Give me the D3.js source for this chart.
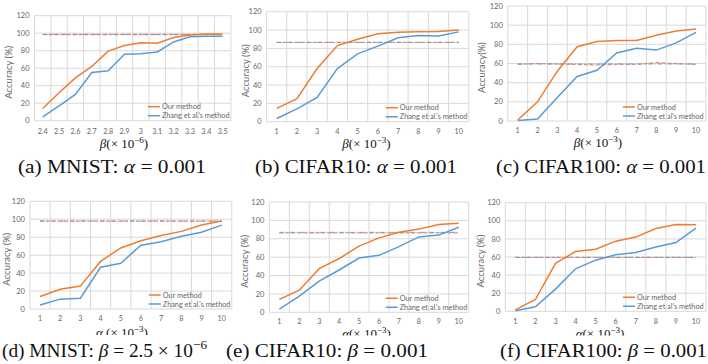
<!DOCTYPE html>
<html><head><meta charset="utf-8">
<script src="https://cdn.jsdelivr.net/npm/d3@7"></script>
<style>html,body{margin:0;padding:0;background:#fff;}svg{display:block;}</style>
</head><body>
<svg id="chart" width="708" height="364"></svg>
<script>
// ---------- data ----------
const catsA = ["2.4","2.5","2.6","2.7","2.8","2.9","3","3.1","3.2","3.3","3.4","3.5"];
const catsN = ["1","2","3","4","5","6","7","8","9","10"];
const yTicks = [0,20,40,60,80,100,120];

const ourA   = [14, 32, 49, 62, 79.5, 86, 89, 88.5, 95, 98, 99, 99];
const zhangA = [4.5, 17, 30, 55, 57, 76, 76.5, 78.5, 90, 96, 96.5, 96.5];
const baseOurA   = [98.5,98.5,98.5,98.5,98.5,98.5,98.5,98.5,98.5,98.5,98.5,98.5];
const baseZhangA = [98.5,98.5,98.5,98.5,98.5,98.5,98.5,98.5,98.5,98.5,98.5,98.5];

const ourB   = [14.5, 25, 58, 83, 90, 96, 97.5, 98, 98.5, 100];
const zhangB = [3.5, 14, 26.5, 58, 74, 82.5, 91.5, 94, 93.5, 98];
const baseOurB   = [86.5,86.5,86.5,86.5,86.5,86.5,86.5,86.5,86.5,86.5];
const baseZhangB = [86.5,86.5,86.5,86.5,86.5,86.5,86.5,86.5,86.5,86.5];

const ourC   = [1, 20, 52, 77.5, 83, 84, 84, 89.5, 94, 96];
const zhangC = [0.5, 2, 24.5, 46.5, 53, 71, 76, 74, 81.5, 92.5];
const baseOurC   = [59, 60, 59.5, 59, 58.5, 59, 59, 61, 60, 59];
const baseZhangC = [59.5,59.5,59.5,59.5,59.5,59.5,59.5,59.5,59.5,59.5];

const ourD   = [14, 22, 25.5, 53, 68, 76, 82, 86.5, 93.5, 98];
const zhangD = [4.5, 11, 12, 46.5, 51, 71, 75, 81, 85.5, 93.5];
const baseOurD   = [98,98,98,98,98,98,98,98,98,98];
const baseZhangD = [98,98,98,98,98,98,98,98,98,98];

const ourE   = [14, 24, 47.5, 58.5, 72, 81, 87, 90.5, 95.5, 97];
const zhangE = [3.5, 17.5, 34, 46, 59, 62, 71.5, 82, 84, 92.5];
const baseOurE   = [86.5,86.5,86.5,86.5,86.5,86.5,86.5,86.5,86.5,86.5];
const baseZhangE = [87,87,87,87,87,87,87,87,87,87];

const ourF   = [1.5, 13, 53, 66, 68.5, 77.5, 82, 91.5, 96, 95.5];
const zhangF = [0.5, 5, 24.5, 47, 56.5, 62.5, 65, 71, 76, 92];
const baseOurF   = [59.5,59.5,59.5,59.5,59.5,59.5,59.5,59.5,59.5,59.5];
const baseZhangF = [59.5,59.5,59.5,59.5,59.5,59.5,59.5,59.5,59.5,59.5];

const seriesNames = ["Our method", "Zhang et al.'s method", "Zhang et al's method"];
const yLabels = ["Accuracy (%)", "Accuracy(%)"];

// ---------- layout ----------
const panels = [
  {cats:catsA, our:ourA, zh:zhangA, bo:baseOurA, bz:baseZhangA, L:34.5, R:230.9, T:15.7, B:120.7, ylx:9,  tickY:131.5, ttlX:124, ttlY:148, sym:"β", exp:"−6", sp:"", ylab:yLabels[0], leg:seriesNames[1], clip:152},
  {cats:catsN, our:ourB, zh:zhangB, bo:baseOurB, bz:baseZhangB, L:266.6, R:468.8, T:11.7, B:121.7, ylx:246, tickY:131.5, ttlX:366.5, ttlY:148, sym:"β", exp:"−3", sp:"", ylab:yLabels[0], leg:seriesNames[1], clip:152},
  {cats:catsN, our:ourC, zh:zhangC, bo:baseOurC, bz:baseZhangC, L:507.8, R:705.9, T:6, B:121, ylx:482, tickY:130.5, ttlX:598, ttlY:147, sym:"β", exp:"−3", sp:"", ylab:yLabels[1], leg:seriesNames[2], clip:152},
  {cats:catsN, our:ourD, zh:zhangD, bo:baseOurD, bz:baseZhangD, L:29.9, R:231.8, T:201.3, B:309, ylx:7, tickY:318.2, ttlX:122, ttlY:336.5, sym:"α", exp:"−3", sp:" ", ylab:yLabels[0], leg:seriesNames[1], clip:335},
  {cats:catsN, our:ourE, zh:zhangE, bo:baseOurE, bz:baseZhangE, L:269.4, R:468.7, T:202, B:312.3, ylx:245, tickY:321, ttlX:366.5, ttlY:337.5, sym:"α", exp:"−3", sp:"", ylab:yLabels[0], leg:seriesNames[1], clip:335.5},
  {cats:catsN, our:ourF, zh:zhangF, bo:baseOurF, bz:baseZhangF, L:505.3, R:706, T:202.7, B:311.3, ylx:481, tickY:321, ttlX:600, ttlY:337.5, sym:"α", exp:"−3", sp:"", ylab:yLabels[0], leg:seriesNames[2], clip:335.5}
];

const captions = [
  {x:18,  w:188, y:173, parts:[["(a) MNIST: ",""],["α","i"],[" = 0.001",""]]},
  {x:255, w:202, y:173, parts:[["(b) CIFAR10: ",""],["α","i"],[" = 0.001",""]]},
  {x:496, w:210, y:173, parts:[["(c) CIFAR100: ",""],["α","i"],[" = 0.001",""]]},
  {x:2,   w:205, y:357, parts:[["(d) MNIST: ",""],["β","i"],[" = 2.5 × 10",""],["−6","sup"]]},
  {x:226, w:202, y:357, parts:[["(e) CIFAR10: ",""],["β","i"],[" = 0.001",""]]},
  {x:500, w:207, y:357, parts:[["(f) CIFAR100: ",""],["β","i"],[" = 0.001",""]]}
];

const ORANGE = "#ED7D31", BLUE = "#5B9BD5", GRID = "#d9d9d9", TXT = "#666";
const sansF = "Lato, 'Open Sans', sans-serif";
const serifF = "'Liberation Serif', 'DejaVu Serif', serif";

const svg = d3.select("#chart");
const defs = svg.append("defs");

panels.forEach((p, i) => {
  defs.append("clipPath").attr("id", "clip" + i)
    .append("rect").attr("x", p.L - 40).attr("y", 0).attr("width", p.R - p.L + 45).attr("height", p.clip);
  const g = svg.append("g").attr("clip-path", `url(#clip${i})`);

  const band = d3.scaleBand().domain(p.cats).range([p.L, p.R]).padding(0);
  const x = c => band(c) + band.bandwidth() / 2;
  const y = d3.scaleLinear().domain([0, 120]).range([p.B, p.T]);

  // horizontal grid
  g.selectAll(".hg").data(yTicks).join("line")
    .attr("x1", p.L).attr("x2", p.R)
    .attr("y1", d => y(d)).attr("y2", d => y(d))
    .attr("stroke", GRID).attr("stroke-width", 1);
  // vertical grid at category boundaries
  const vb = p.cats.map(c => band(c)).concat([p.R]);
  g.selectAll(".vg").data(vb).join("line")
    .attr("x1", d => d).attr("x2", d => d)
    .attr("y1", p.T).attr("y2", p.B)
    .attr("stroke", GRID).attr("stroke-width", 1);

  // y tick labels
  g.selectAll(".yt").data(yTicks).join("text")
    .attr("x", p.L - 5).attr("y", d => y(d)).attr("dy", "0.35em")
    .attr("text-anchor", "end").attr("font-family", sansF).attr("font-size", 7.5)
    .attr("fill", TXT).text(d => d);
  // x tick labels
  g.selectAll(".xt").data(p.cats).join("text")
    .attr("x", d => x(d)).attr("y", p.tickY).attr("dy", "0.35em")
    .attr("text-anchor", "middle").attr("font-family", sansF).attr("font-size", 7.2)
    .attr("fill", TXT).text(d => d);

  // y label
  g.append("text")
    .attr("transform", `translate(${p.ylx},${(p.T + p.B) / 2 + 4}) rotate(-90)`)
    .attr("dy", "0.35em").attr("text-anchor", "middle")
    .attr("font-family", sansF).attr("font-size", 9.5).attr("fill", TXT)
    .text(p.ylab);

  // x title
  const tt = g.append("text").attr("x", p.ttlX).attr("y", p.ttlY)
    .attr("text-anchor", "middle").attr("font-family", serifF).attr("font-size", 13).attr("fill", "#111");
  tt.append("tspan").attr("font-style", "italic").text(p.sym);
  tt.append("tspan").text(p.sp + "(× 10");
  tt.append("tspan").attr("font-size", 9).attr("dy", -5).text(p.exp);
  tt.append("tspan").attr("dy", 5).text(")");

  // baselines
  const ln = d3.line().x((d, k) => x(p.cats[k])).y(d => y(d));
  g.append("path").attr("d", ln(p.bo)).attr("fill", "none")
    .attr("stroke", "#E0845A").attr("stroke-width", 1.3).attr("stroke-dasharray", "4,2").attr("opacity", 0.85);
  g.append("path").attr("d", ln(p.bz)).attr("fill", "none")
    .attr("stroke", "#7D93BD").attr("stroke-width", 1).attr("stroke-dasharray", "5,2,1,2").attr("opacity", 0.9);

  // series
  g.append("path").attr("d", ln(p.zh)).attr("fill", "none").attr("stroke", BLUE).attr("stroke-width", 1.5);
  g.append("path").attr("d", ln(p.our)).attr("fill", "none").attr("stroke", ORANGE).attr("stroke-width", 1.5);

  // legend
  const lx = p.R - 83;
  [[seriesNames[0], ORANGE, p.B - 14], [p.leg, BLUE, p.B - 5]].forEach(([t, c, ly]) => {
    g.append("line").attr("x1", lx).attr("x2", lx + 12).attr("y1", ly).attr("y2", ly)
      .attr("stroke", c).attr("stroke-width", 1.5);
    g.append("text").attr("x", lx + 14).attr("y", ly).attr("dy", "0.35em")
      .attr("font-family", sansF).attr("font-size", 7.3).attr("fill", TXT).text(t);
  });
});

// captions
captions.forEach(c => {
  const t = svg.append("text").attr("x", c.x).attr("y", c.y).attr("text-anchor", "start")
    .attr("font-family", serifF).attr("font-size", 19).attr("fill", "#111")
    .attr("textLength", c.w).attr("lengthAdjust", "spacingAndGlyphs");
  c.parts.forEach(([s, k]) => {
    const ts = t.append("tspan").text(s);
    if (k === "i") ts.attr("font-style", "italic");
    if (k === "sup") ts.attr("font-size", 13).attr("dy", -8);
  });
});
</script>
</body></html>
